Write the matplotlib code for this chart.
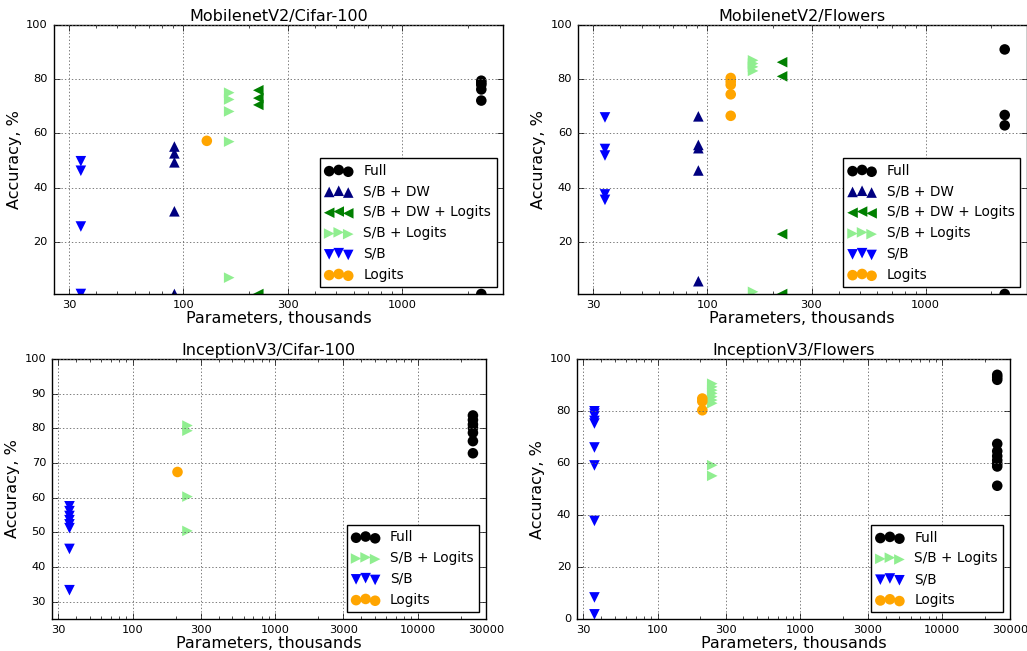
import matplotlib
matplotlib.use("Agg")
import matplotlib.pyplot as plt
import numpy as np
from matplotlib.ticker import FixedLocator, NullFormatter

plt.style.use("classic")
plt.rcParams['font.family'] = ['DejaVu Sans']
plt.rcParams['savefig.facecolor'] = 'white'
plt.rcParams['figure.facecolor'] = 'white'

# parameter counts (thousands) per method
mb_params = {"Full": 2300, "S/B + DW": 91, "S/B + DW + Logits": 220,
             "S/B + Logits": 162, "S/B": 34, "Logits": 128}
inc_params = {"Full": 24300, "S/B + Logits": 242, "S/B": 36, "Logits": 206}

# MobilenetV2 / Cifar-100
mb_c100_full = [79.4, 78.6, 77.9, 76.2, 72.1, 1]
mb_c100_sbdw = [55.2, 52.7, 49.4, 31.4, 1]
mb_c100_sbdwl = [75.9, 73.0, 70.5, 1]
mb_c100_sbl = [75.0, 72.5, 68.1, 57.0, 7.0]
mb_c100_sb = [49.8, 46.3, 25.8, 1]
mb_c100_logits = [57.3]

# MobilenetV2 / Flowers
mb_fl_full = [90.9, 66.8, 63.0, 1]
mb_fl_sbdw = [66.3, 55.8, 54.6, 46.4, 5.7]
mb_fl_sbdwl = [86.2, 81.0, 23.0, 1]
mb_fl_sbl = [86.9, 85.7, 84.5, 83.0, 1.8]
mb_fl_sb = [65.9, 54.3, 51.9, 37.6, 35.6]
mb_fl_logits = [80.4, 79.1, 77.9, 74.4, 66.5]

# InceptionV3 / Cifar-100
inc_c100_full = [83.7, 82.4, 81.1, 80.1, 78.7, 76.3, 72.8]
inc_c100_sbl = [80.8, 79.3, 60.3, 50.4]
inc_c100_sb = [57.5, 56.1, 54.7, 53.5, 52.3, 51.2, 45.2, 33.3]
inc_c100_logits = [67.4]

# InceptionV3 / Flowers
inc_fl_full = [93.9, 93.0, 92.0, 67.4, 64.6, 62.7, 61.1, 59.8, 58.7, 51.3]
inc_fl_sbl = [90.5, 89.3, 88.0, 86.8, 85.5, 84.2, 83.0, 59.2, 55.1]
inc_fl_sb = [79.9, 79.0, 78.0, 76.2, 75.2, 66.0, 59.1, 37.8, 8.4, 1.9]
inc_fl_logits = [84.8, 83.7, 80.3]

styles = {
    "Full": ('o', 'black'),
    "S/B + DW": ('^', 'navy'),
    "S/B + DW + Logits": ('<', 'green'),
    "S/B + Logits": ('>', 'lightgreen'),
    "S/B": ('v', 'blue'),
    "Logits": ('o', 'orange'),
}

panels = [
    ("MobilenetV2/Cifar-100", mb_params,
     [("Full", mb_c100_full), ("S/B + DW", mb_c100_sbdw), ("S/B + DW + Logits", mb_c100_sbdwl),
      ("S/B + Logits", mb_c100_sbl), ("S/B", mb_c100_sb), ("Logits", mb_c100_logits)],
     [0.0521, 0.5484, 0.4380, 0.4137], (25.5, 2900), (1, 100), [20, 40, 60, 80, 100],
     [30, 100, 300, 1000]),
    ("MobilenetV2/Flowers", mb_params,
     [("Full", mb_fl_full), ("S/B + DW", mb_fl_sbdw), ("S/B + DW + Logits", mb_fl_sbdwl),
      ("S/B + Logits", mb_fl_sbl), ("S/B", mb_fl_sb), ("Logits", mb_fl_logits)],
     [0.5625, 0.5484, 0.4372, 0.4137], (25.5, 2900), (1, 100), [20, 40, 60, 80, 100],
     [30, 100, 300, 1000]),
    ("InceptionV3/Cifar-100", inc_params,
     [("Full", inc_c100_full), ("S/B + Logits", inc_c100_sbl), ("S/B", inc_c100_sb),
      ("Logits", inc_c100_logits)],
     [0.0503, 0.0492, 0.4229, 0.3994], (27, 30000), (25, 100), list(range(30, 101, 10)),
     [30, 100, 300, 1000, 3000, 10000, 30000]),
    ("InceptionV3/Flowers", inc_params,
     [("Full", inc_fl_full), ("S/B + Logits", inc_fl_sbl), ("S/B", inc_fl_sb),
      ("Logits", inc_fl_logits)],
     [0.5615, 0.0487, 0.4222, 0.3999], (27, 30000), (0, 100), [0, 20, 40, 60, 80, 100],
     [30, 100, 300, 1000, 3000, 10000, 30000]),
]

fig = plt.figure(figsize=(10.27, 6.51), dpi=100)

for title, params, series, rect, xlim, ylim, yticks, xticks in panels:
    ax = fig.add_axes(rect)
    for name, vals in series:
        marker, color = styles[name]
        ax.scatter(np.full(len(vals), params[name]), vals, marker=marker, c=color,
                   s=58, edgecolors='none', label=name)
    ax.set_xscale('log')
    ax.set_xlim(*xlim)
    ax.set_ylim(*ylim)
    ax.xaxis.set_major_locator(FixedLocator(xticks))
    ax.xaxis.set_minor_formatter(NullFormatter())
    ax.set_xticklabels([str(t) for t in xticks])
    ax.set_yticks(yticks)
    ax.tick_params(labelsize=8.2)
    ax.grid(True, color='0.4', linestyle=(0, (1, 1.5)), linewidth=0.6)
    ax.set_title(title, fontsize=11.5, pad=3)
    ax.set_xlabel("Parameters, thousands", fontsize=11.5, labelpad=1)
    ax.set_ylabel("Accuracy, %", fontsize=11.5, labelpad=3)
    ax.legend(loc='lower right', fontsize=9.8, scatterpoints=3)

fig.savefig("out.png", dpi=100)
